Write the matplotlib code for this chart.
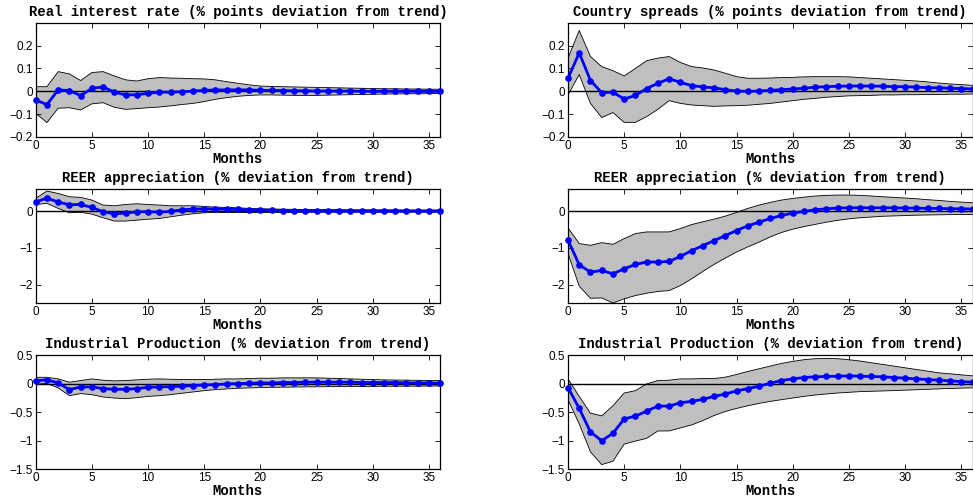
import numpy as np
import matplotlib
matplotlib.use("Agg")
import matplotlib.pyplot as plt
from matplotlib.ticker import FuncFormatter

# months after the shock
months = np.arange(37)

# left column: real interest rate shock
r_rate_mean = [-0.038, -0.058, 0.006, 0.003, -0.019, 0.013, 0.019, -0.004, -0.016, -0.015,
               -0.009, -0.004, -0.004, -0.002, 0.001, 0.004, 0.006, 0.006, 0.006, 0.006,
               0.004, 0.004, 0.003, 0.002, 0.002, 0.001, 0.001, 0.001, 0.001, 0.0,
               0.0, 0.0, 0.0, 0.0, 0.0, 0.0, 0.0]
r_rate_hi = [0.02, 0.02, 0.086, 0.076, 0.047, 0.082, 0.086, 0.067, 0.05, 0.045,
             0.055, 0.06, 0.058, 0.057, 0.055, 0.054, 0.05, 0.042, 0.035, 0.028,
             0.023, 0.021, 0.02, 0.019, 0.018, 0.017, 0.016, 0.015, 0.014, 0.013,
             0.012, 0.011, 0.011, 0.01, 0.01, 0.009, 0.009]
r_rate_lo = [-0.096, -0.137, -0.074, -0.072, -0.082, -0.055, -0.05, -0.07, -0.079, -0.076,
             -0.072, -0.069, -0.064, -0.058, -0.053, -0.045, -0.035, -0.028, -0.022, -0.018,
             -0.016, -0.016, -0.017, -0.018, -0.018, -0.018, -0.017, -0.016, -0.015, -0.014,
             -0.013, -0.012, -0.012, -0.011, -0.011, -0.01, -0.01]

r_reer_mean = [0.245, 0.355, 0.245, 0.173, 0.18, 0.1, -0.018, -0.073, -0.055, -0.018,
               -0.018, -0.027, -0.009, 0.036, 0.055, 0.064, 0.055, 0.055, 0.045, 0.036,
               0.027, 0.02, 0.015, 0.01, 0.008, 0.005, 0.003, 0.002, 0.002, 0.001,
               0.001, 0.0, 0.0, 0.0, 0.0, 0.0, 0.0]
r_reer_hi = [0.345, 0.545, 0.48, 0.39, 0.373, 0.3, 0.164, 0.145, 0.18, 0.2,
             0.18, 0.164, 0.145, 0.145, 0.145, 0.127, 0.109, 0.1, 0.09, 0.073,
             0.064, 0.058, 0.052, 0.048, 0.045, 0.042, 0.04, 0.038, 0.036, 0.035,
             0.034, 0.033, 0.032, 0.031, 0.03, 0.03, 0.03]
r_reer_lo = [0.18, 0.21, 0.073, -0.045, -0.03, -0.082, -0.18, -0.27, -0.27, -0.245,
             -0.22, -0.2, -0.155, -0.11, -0.073, -0.045, -0.036, -0.036, -0.036, -0.036,
             -0.036, -0.035, -0.034, -0.033, -0.032, -0.031, -0.03, -0.029, -0.028, -0.028,
             -0.027, -0.027, -0.026, -0.026, -0.025, -0.025, -0.025]

r_ip_mean = [0.053, 0.065, 0.012, -0.106, -0.059, -0.059, -0.088, -0.1, -0.1, -0.088,
             -0.065, -0.059, -0.053, -0.047, -0.035, -0.024, -0.018, -0.006, 0.0, 0.006,
             0.012, 0.012, 0.018, 0.018, 0.024, 0.024, 0.024, 0.024, 0.024, 0.018,
             0.018, 0.018, 0.018, 0.012, 0.012, 0.012, 0.006]
r_ip_hi = [0.11, 0.11, 0.082, 0.024, 0.053, 0.082, 0.059, 0.047, 0.053, 0.065,
           0.076, 0.082, 0.076, 0.07, 0.07, 0.07, 0.076, 0.082, 0.082, 0.088,
           0.094, 0.094, 0.1, 0.1, 0.1, 0.1, 0.094, 0.088, 0.082, 0.076,
           0.07, 0.065, 0.062, 0.06, 0.057, 0.055, 0.053]
r_ip_lo = [0.012, 0.0, -0.076, -0.212, -0.176, -0.194, -0.235, -0.253, -0.265, -0.247,
           -0.224, -0.212, -0.194, -0.17, -0.147, -0.124, -0.106, -0.094, -0.082, -0.076,
           -0.07, -0.066, -0.063, -0.06, -0.058, -0.056, -0.054, -0.052, -0.05, -0.05,
           -0.049, -0.048, -0.047, -0.046, -0.045, -0.044, -0.043]

# right column: country spread shock
s_spread_mean = [0.057, 0.168, 0.047, -0.006, -0.004, -0.034, -0.018, 0.012, 0.035, 0.055,
                 0.039, 0.025, 0.019, 0.015, 0.007, 0.001, 0.0, 0.001, 0.004, 0.007,
                 0.01, 0.013, 0.018, 0.02, 0.022, 0.023, 0.023, 0.023, 0.022, 0.02,
                 0.02, 0.018, 0.016, 0.015, 0.013, 0.012, 0.01]
s_spread_hi = [0.145, 0.266, 0.152, 0.108, 0.09, 0.067, 0.1, 0.134, 0.145, 0.152,
               0.126, 0.108, 0.102, 0.093, 0.079, 0.064, 0.057, 0.057, 0.058, 0.06,
               0.061, 0.063, 0.064, 0.064, 0.064, 0.063, 0.06, 0.057, 0.054, 0.051,
               0.048, 0.045, 0.041, 0.036, 0.032, 0.029, 0.026]
s_spread_lo = [-0.016, 0.073, -0.053, -0.115, -0.093, -0.136, -0.136, -0.111, -0.079, -0.041,
               -0.053, -0.06, -0.063, -0.066, -0.064, -0.063, -0.061, -0.057, -0.053, -0.047,
               -0.041, -0.035, -0.031, -0.026, -0.023, -0.02, -0.019, -0.018, -0.016, -0.016,
               -0.015, -0.015, -0.014, -0.014, -0.013, -0.013, -0.012]

s_reer_mean = [-0.79, -1.455, -1.655, -1.61, -1.70, -1.564, -1.445, -1.38, -1.38, -1.364,
               -1.227, -1.073, -0.936, -0.8, -0.664, -0.527, -0.4, -0.3, -0.2, -0.118,
               -0.055, -0.009, 0.036, 0.064, 0.082, 0.09, 0.09, 0.09, 0.09, 0.09,
               0.082, 0.082, 0.073, 0.073, 0.064, 0.064, 0.055]
s_reer_hi = [-0.455, -0.88, -0.927, -0.855, -0.9, -0.745, -0.61, -0.564, -0.564, -0.564,
             -0.473, -0.364, -0.29, -0.218, -0.136, -0.036, 0.073, 0.164, 0.236, 0.3,
             0.345, 0.38, 0.41, 0.427, 0.436, 0.436, 0.427, 0.41, 0.39, 0.373,
             0.355, 0.336, 0.31, 0.29, 0.264, 0.245, 0.227]
s_reer_lo = [-1.15, -2.036, -2.364, -2.355, -2.49, -2.38, -2.29, -2.227, -2.18, -2.155,
             -2.02, -1.836, -1.636, -1.445, -1.273, -1.11, -0.97, -0.84, -0.70, -0.58,
             -0.49, -0.42, -0.36, -0.30, -0.25, -0.21, -0.18, -0.16, -0.14, -0.13,
             -0.12, -0.11, -0.105, -0.1, -0.095, -0.09, -0.09]

s_ip_mean = [-0.07, -0.435, -0.847, -1.0, -0.87, -0.618, -0.57, -0.482, -0.394, -0.394,
             -0.335, -0.312, -0.276, -0.224, -0.182, -0.129, -0.088, -0.047, 0.006, 0.053,
             0.082, 0.106, 0.118, 0.124, 0.129, 0.135, 0.129, 0.124, 0.118, 0.106,
             0.094, 0.082, 0.07, 0.059, 0.047, 0.035, 0.024]
s_ip_hi = [0.082, -0.224, -0.518, -0.565, -0.388, -0.165, -0.124, -0.006, 0.053, 0.059,
           0.082, 0.082, 0.088, 0.088, 0.112, 0.159, 0.212, 0.259, 0.306, 0.353,
           0.388, 0.418, 0.435, 0.441, 0.435, 0.418, 0.394, 0.365, 0.335, 0.306,
           0.276, 0.247, 0.218, 0.188, 0.171, 0.153, 0.135]
s_ip_lo = [-0.282, -0.706, -1.194, -1.418, -1.359, -1.059, -1.006, -0.959, -0.829, -0.829,
           -0.776, -0.724, -0.647, -0.559, -0.488, -0.435, -0.388, -0.347, -0.312, -0.282,
           -0.253, -0.224, -0.2, -0.182, -0.165, -0.153, -0.141, -0.135, -0.129, -0.122,
           -0.115, -0.108, -0.1, -0.093, -0.086, -0.08, -0.075]

titles = ['Real interest rate (% points deviation from trend)',
          'Country spreads (% points deviation from trend)',
          'REER appreciation (% deviation from trend)',
          'REER appreciation (% deviation from trend)',
          'Industrial Production (% deviation from trend)',
          'Industrial Production (% deviation from trend)']

panels = [(r_rate_mean, r_rate_lo, r_rate_hi), (s_spread_mean, s_spread_lo, s_spread_hi),
          (r_reer_mean, r_reer_lo, r_reer_hi), (s_reer_mean, s_reer_lo, s_reer_hi),
          (r_ip_mean, r_ip_lo, r_ip_hi), (s_ip_mean, s_ip_lo, s_ip_hi)]

row_ylims = [(-0.2, 0.3), (-2.5, 0.6), (-1.5, 0.5)]
row_yticks = [[-0.2, -0.1, 0, 0.1, 0.2], [-2, -1, 0], [-1.5, -1, -0.5, 0, 0.5]]

W, H = 973, 504
fig = plt.figure(figsize=(W / 100, H / 100), dpi=100)

col_left = [35.7, 568.0]
ax_w = 404.5
row_top = [22.7, 189.0, 355.0]
ax_h = 114.3

mono = 'Liberation Mono'
sans = 'Liberation Sans'
fmt = FuncFormatter(lambda v, p: ('%g' % v).replace('-', '\u2212'))

for i, (mean, lo, hi) in enumerate(panels):
    row, col = divmod(i, 2)
    ax = fig.add_axes([col_left[col] / W, 1 - (row_top[row] + ax_h) / H, ax_w / W, ax_h / H])
    ax.fill_between(months, lo, hi, facecolor='#bfbfbf', edgecolor='none', zorder=1)
    ax.plot(months, lo, color='black', lw=0.6, zorder=2)
    ax.plot(months, hi, color='black', lw=0.6, zorder=2)
    ax.axhline(0, color='black', lw=1.0, zorder=3)
    ax.plot(months, mean, color='#0000ff', lw=2.0, marker='o', markersize=4.8,
            markeredgewidth=0, zorder=4, clip_on=False)
    ax.set_xlim(0, 36)
    ax.set_ylim(*row_ylims[row])
    ax.set_xticks([0, 5, 10, 15, 20, 25, 30, 35])
    ax.set_yticks(row_yticks[row])
    ax.yaxis.set_major_formatter(fmt)
    ax.tick_params(direction='in', length=3.5, width=0.6, top=True, right=True,
                   labelsize=8.5, pad=2)
    for lab in ax.get_xticklabels() + ax.get_yticklabels():
        lab.set_fontfamily(sans)
    for sp in ax.spines.values():
        sp.set_linewidth(0.9)
    ax.set_title(titles[i], fontsize=10, fontweight='bold', family=mono, pad=5)
    ax.set_xlabel('Months', fontsize=10, fontweight='bold', family=mono, labelpad=0)

fig.savefig('out.png', dpi=100)
